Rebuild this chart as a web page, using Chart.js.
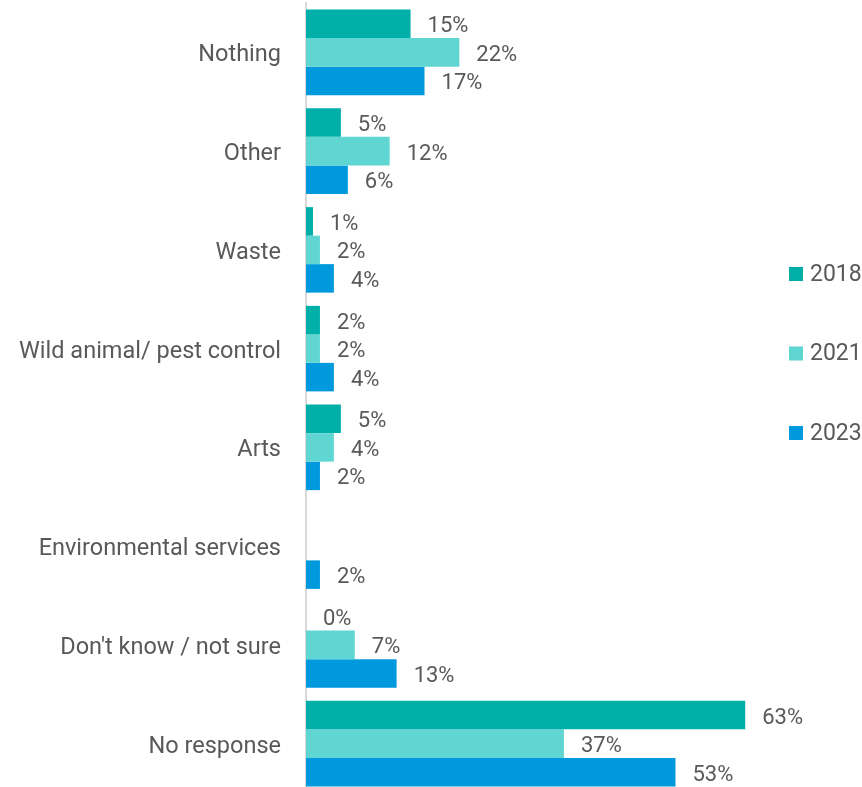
<!DOCTYPE html>
<html>
<head>
<meta charset="utf-8">
<title>Responses by year</title>
<script src="https://cdn.jsdelivr.net/npm/chart.js@4"></script>
<style>
  html, body { margin: 0; padding: 0; background: #fff; overflow: hidden; }
  #wrap { width: 862px; height: 800px; }
</style>
</head>
<body>
<div id="wrap"><canvas id="chart" width="862" height="800"></canvas></div>
<script>
const categories = [
    'Nothing',
    'Other',
    'Waste',
    'Wild animal/ pest control',
    'Arts',
    'Environmental services',
    "Don't know / not sure",
    'No response'
];
const years = ['2018', '2021', '2023'];
const values2018 = [15, 5, 1, 2, 5, null, 0, 63];
const values2021 = [22, 12, 2, 2, 4, null, 7, 37];
const values2023 = [17, 6, 4, 4, 2, 2, 13, 53];
const colours = ['#00AFA8', '#60D6D3', '#0099DD'];

const textColour = '#595959';
const fontFamily = 'Roboto, "Open Sans", sans-serif';

// "15%" style labels just past the end of each bar
const valueLabels = {
    id: 'valueLabels',
    afterDatasetsDraw(chart) {
        const ctx = chart.ctx;
        ctx.save();
        ctx.font = '22px ' + fontFamily;
        ctx.fillStyle = textColour;
        ctx.textAlign = 'left';
        ctx.textBaseline = 'middle';
        chart.data.datasets.forEach((ds, i) => {
            const meta = chart.getDatasetMeta(i);
            meta.data.forEach((bar, j) => {
                const v = ds.data[j];
                if (v === null || v === undefined) return;
                ctx.fillText(v + '%', bar.x + 17, bar.y + 3);
            });
        });
        ctx.restore();
    }
};

// legend on the right: small squares with the year next to them
const sideLegend = {
    id: 'sideLegend',
    afterDraw(chart) {
        const ctx = chart.ctx;
        const x = chart.chartArea.right - 5;
        const top = 274;
        const step = 79.5;
        ctx.save();
        ctx.font = '23px ' + fontFamily;
        ctx.textAlign = 'left';
        ctx.textBaseline = 'middle';
        chart.data.datasets.forEach((ds, i) => {
            const y = top + i * step;
            ctx.fillStyle = ds.backgroundColor;
            ctx.fillRect(x, y - 7, 14, 14);
            ctx.fillStyle = textColour;
            ctx.fillText(ds.label, x + 21, y + 1);
        });
        ctx.restore();
    }
};

const datasets = [values2018, values2021, values2023].map((vals, i) => ({
    label: years[i],
    data: vals,
    backgroundColor: colours[i],
    borderWidth: 0,
    categoryPercentage: 0.866,
    barPercentage: 1
}));

new Chart(document.getElementById('chart'), {
    type: 'bar',
    data: { labels: categories, datasets: datasets },
    options: {
        indexAxis: 'y',
        responsive: false,
        animation: false,
        layout: { padding: { top: 3, bottom: 7, left: 0, right: 68 } },
        plugins: {
            legend: { display: false },
            tooltip: { enabled: false }
        },
        scales: {
            x: {
                display: false,
                min: 0,
                max: 70
            },
            y: {
                grid: { display: false, drawTicks: false },
                border: { display: true, color: '#d9d9d9', width: 2 },
                ticks: {
                    color: textColour,
                    font: { family: fontFamily, size: 23.5 },
                    padding: 25,
                    labelOffset: 3
                },
                afterFit(scale) {
                    scale.width = 306;
                    // labels sit mid-band, no extra room needed above/below
                    scale.paddingTop = 0;
                    scale.paddingBottom = 0;
                }
            }
        }
    },
    plugins: [valueLabels, sideLegend]
});
</script>
</body>
</html>
